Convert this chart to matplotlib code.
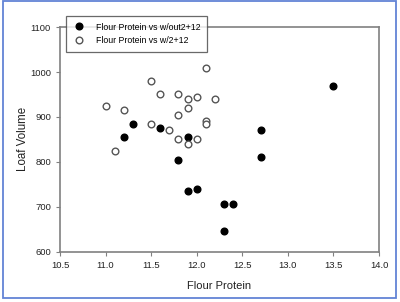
import matplotlib
matplotlib.use("Agg")
import matplotlib.pyplot as plt
from matplotlib.patches import Rectangle

plt.rcParams['font.family'] = ['Liberation Sans', 'DejaVu Sans']

without_x = [11.2, 11.3, 11.6, 11.8, 11.9, 11.9, 12.0, 12.3, 12.4, 12.3, 12.7, 12.7, 13.5]
without_y = [855, 885, 875, 805, 855, 735, 740, 705, 705, 645, 870, 810, 970]
with_x = [11.0, 11.1, 11.2, 11.5, 11.5, 11.6, 11.7, 11.8, 11.8, 11.8, 11.9, 11.9, 11.9,
          12.0, 12.0, 12.1, 12.1, 12.1, 12.2]
with_y = [925, 825, 915, 980, 885, 950, 870, 950, 905, 850, 940, 920, 840,
          945, 850, 1010, 890, 885, 940]
xticks = [10.5, 11.0, 11.5, 12.0, 12.5, 13.0, 13.5, 14.0]
yticks = [600, 700, 800, 900, 1000, 1100]

fig = plt.figure(figsize=(4.0, 3.02), dpi=100)
ax = fig.add_axes([0.15, 0.167, 0.7975, 0.743])

ax.plot(without_x, without_y, 'o', color='black', markersize=4.8,
        label='Flour Protein vs w/out2+12')
ax.plot(with_x, with_y, 'o', markerfacecolor='white', markeredgecolor='#555555',
        markeredgewidth=1.0, markersize=4.8, label='Flour Protein vs w/2+12')

ax.set_xlim(10.5, 14.0)
ax.set_ylim(600, 1100)
ax.set_xticks(xticks)
ax.set_xticklabels([f"{v:.1f}" for v in xticks])
ax.set_yticks(yticks)
ax.set_yticklabels([str(v) for v in yticks])
ax.tick_params(labelsize=6.8, colors='#222222', length=3, width=0.8, direction='out')
ax.tick_params(axis='both', color='#808080')
for s in ax.spines.values():
    s.set_color('#808080')
    s.set_linewidth(1.2)

ax.set_xlabel('Flour Protein', fontsize=8.0, color='#222222', labelpad=8)
ax.set_ylabel('Loaf Volume', fontsize=8.3, color='#222222', labelpad=1)

leg = ax.legend(loc='upper left', bbox_to_anchor=(0.019, 1.05), fontsize=6.3,
                frameon=True, fancybox=False, borderpad=0.75, handletextpad=1.2,
                labelspacing=0.55, handlelength=1.5, borderaxespad=0)
leg.get_frame().set_edgecolor('#444444')
leg.get_frame().set_linewidth(0.9)

fig.patches.append(Rectangle((3/400, 1 - 298/302), 393/400, 297/302,
                             transform=fig.transFigure, fill=False,
                             edgecolor='#6283d6', linewidth=1.3))

fig.savefig('out.png', dpi=100)
